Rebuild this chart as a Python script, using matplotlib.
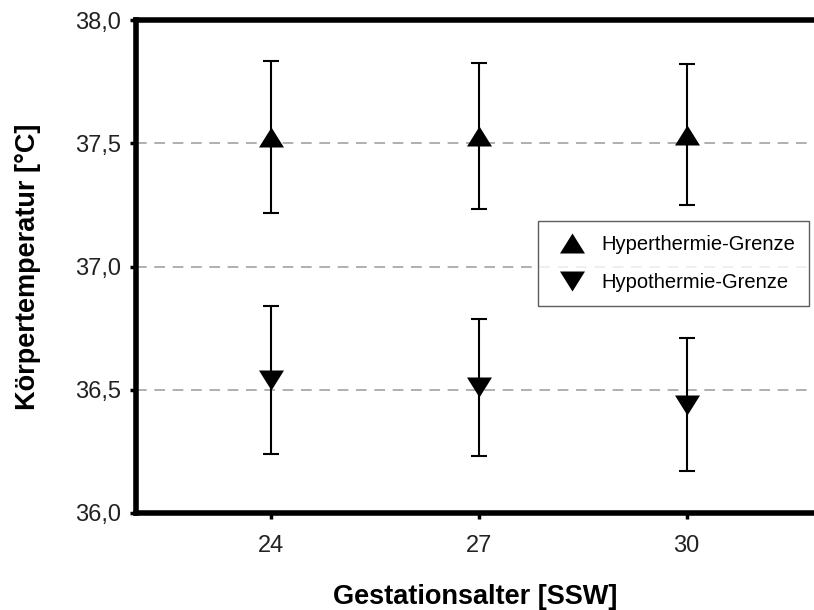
import matplotlib
matplotlib.use("Agg")
import matplotlib.pyplot as plt
import numpy as np

plt.rcParams['font.family'] = ['Liberation Sans', 'DejaVu Sans']

weeks = [24, 27, 30]
hyper_mean = [37.525, 37.53, 37.535]
hyper_low = [37.217, 37.232, 37.25]
hyper_high = [37.834, 37.825, 37.82]
hypo_mean = [36.54, 36.51, 36.44]
hypo_low = [36.238, 36.233, 36.170]
hypo_high = [36.841, 36.786, 36.71]
yticks = [36.0, 36.5, 37.0, 37.5, 38.0]
ytick_labels = ["36,0", "36,5", "37,0", "37,5", "38,0"]
grid_levels = [36.5, 37.0, 37.5]

fig = plt.figure(figsize=(8.14, 6.10), dpi=100)
left_px, right_px, top_px, bot_px = 136, 814, 20, 513
W, H = 814, 610
ax = fig.add_axes([left_px / W, 1 - bot_px / H, (right_px - left_px) / W, (bot_px - top_px) / H])

# x scale: tick 24 at 270.7 px, 30 at 686.7 px
ppu = (686.7 - 270.7) / 6
x0 = 24 - (270.7 - left_px) / ppu
x1 = 24 + (right_px - 270.7) / ppu
ax.set_xlim(x0, x1)
ax.set_ylim(36.0, 38.0)

for g in grid_levels:
    ax.axhline(g, color='#9a9a9a', lw=1.1, linestyle=(0, (7, 5)), zorder=1)

up = [(-1, -0.8), (1, -0.8), (0, 0.8)]
down = [(-1, 0.8), (1, 0.8), (0, -0.8)]

def draw(mean, lo, hi, marker, label):
    m = np.array(mean)
    yerr = [m - np.array(lo), np.array(hi) - m]
    ax.errorbar(weeks, m, yerr=yerr, fmt='none', ecolor='black', elinewidth=1.5,
                capsize=6, capthick=1.5, zorder=2)
    ax.plot(weeks, m, linestyle='none', marker=marker, markersize=18,
            color='black', markeredgewidth=0, zorder=3, label=label)

draw(hyper_mean, hyper_low, hyper_high, up, 'Hyperthermie-Grenze')
draw(hypo_mean, hypo_low, hypo_high, down, 'Hypothermie-Grenze')

ax.set_xticks(weeks)
ax.set_xticklabels([str(w) for w in weeks])
ax.set_yticks(yticks)
ax.set_yticklabels(ytick_labels)
ax.tick_params(axis='both', direction='out', length=4, width=2.5, labelsize=17, colors='black')
ax.tick_params(axis='y', pad=7)
ax.tick_params(axis='x', pad=12)
for lab in ax.get_xticklabels() + ax.get_yticklabels():
    lab.set_color('#222222')

for s in ['left', 'bottom', 'top']:
    ax.spines[s].set_linewidth(4)
ax.spines['right'].set_visible(False)

ax.set_xlabel('Gestationsalter [SSW]', fontsize=19.5, fontweight='bold', labelpad=19)
ax.set_ylabel('Körpertemperatur [°C]', fontsize=19.5, fontweight='bold', labelpad=24)

leg = ax.legend(loc='upper left', bbox_to_anchor=((538 - left_px) / (right_px - left_px),
                1 - (220.7 - top_px) / (bot_px - top_px)),
                fontsize=14.5, frameon=True, fancybox=False, borderpad=0.7,
                handlelength=2.0, handletextpad=0.45, labelspacing=0.95,
                borderaxespad=0, markerscale=1.0)
leg.get_frame().set_edgecolor('#333333')
leg.get_frame().set_linewidth(1.0)

fig.savefig('out.png', dpi=100)
